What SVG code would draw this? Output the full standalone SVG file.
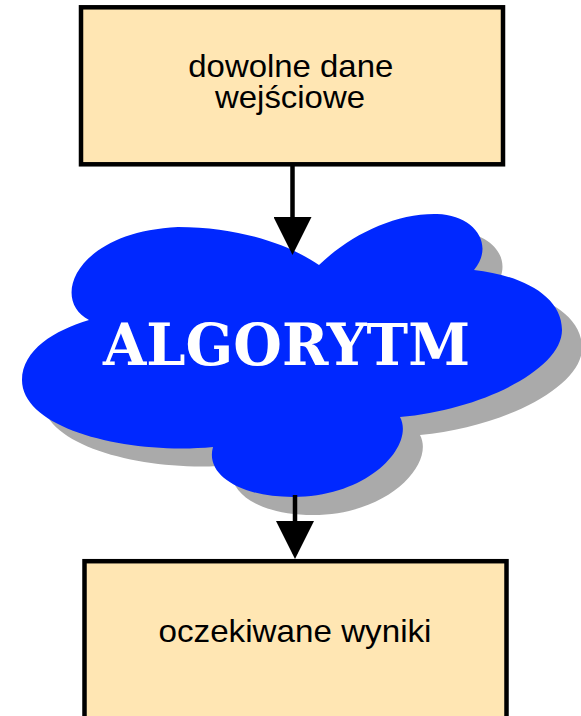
<svg xmlns="http://www.w3.org/2000/svg" width="581" height="716" viewBox="0 0 581 716">
<style>
.box{fill:#ffe6b3;stroke:#000;stroke-width:4.5}
.lbl{font-family:"Liberation Sans",Arial,sans-serif;font-size:30.5px;fill:#000;text-anchor:middle}
.conn{stroke:#000;stroke-width:4.5;fill:none;marker-end:url(#arr)}
.big{font-family:"DejaVu Serif",serif;font-weight:bold;font-size:58px;fill:#fff;text-anchor:middle}
</style>
<defs>
<marker id="arr" viewBox="0 0 38 38" refX="33" refY="19" markerWidth="38" markerHeight="38" markerUnits="userSpaceOnUse" orient="auto">
<path d="M0,0 L38,19 L0,38 z" fill="#000"/>
</marker>
<path id="cloudShape" d="M89,320 C50,300 75,232 178,227 C240,227 290,245 319,265 C350,235 395,213 437,214 C475,215 495,245 474,270 C520,275 562,295 562,330 C562,370 480,410 400,417 C415,445 370,497 293,497 C240,497 205,475 213,447 C130,455 22,430 22,380 C22,350 55,330 89,320 Z"/>
</defs>
<rect width="581" height="716" fill="#fff"/>
<g id="input">
<rect class="box" x="81" y="7.3" width="422" height="157"/>
<text class="lbl" x="290.8" y="76.7" textLength="205" lengthAdjust="spacingAndGlyphs">dowolne dane</text>
<text class="lbl" x="290" y="108" textLength="150" lengthAdjust="spacingAndGlyphs">wejściowe</text>
</g>
<g id="algorithm">
<use href="#cloudShape" transform="translate(20,18)" fill="#aaaaaa"/>
<use href="#cloudShape" fill="#0028ff"/>
<text class="big" x="286.5" y="365" textLength="367" lengthAdjust="spacingAndGlyphs">ALGORYTM</text>
</g>
<g id="output">
<rect class="box" x="84.5" y="561.2" width="422" height="170"/>
<text class="lbl" x="295" y="642" textLength="273" lengthAdjust="spacingAndGlyphs">oczekiwane wyniki</text>
</g>
<g id="connectors">
<line class="conn" x1="292.5" y1="165" x2="292.5" y2="250"/>
<line class="conn" x1="295" y1="495" x2="295" y2="554"/>
</g>
</svg>
